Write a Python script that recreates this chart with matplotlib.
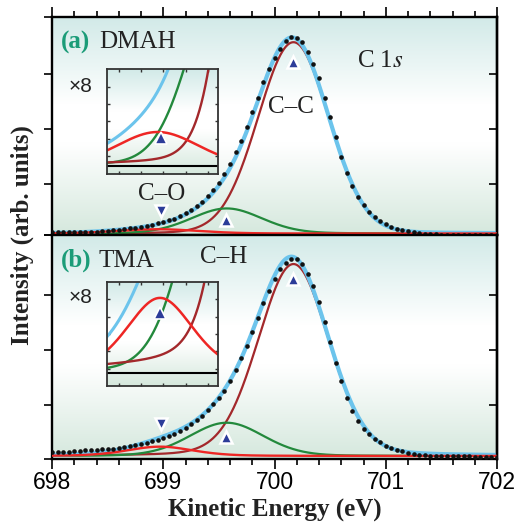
"""C 1s spectra of DMAH and TMA with peak-fit components and x8 insets."""
import numpy as np
import matplotlib
matplotlib.use("Agg")  # headless
import matplotlib.pyplot as plt  # noqa: E402
from matplotlib.colors import LinearSegmentedColormap  # noqa: E402
from matplotlib.ticker import MultipleLocator  # noqa: E402

plt.rcParams["mathtext.fontset"] = "stix"

# measured spectra, sampled every 0.05 eV from 698.00 eV to 702.00 eV
E_START, E_STEP = 698.0, 0.05
dmah_counts = [
    0.022, 0.022, 0.022, 0.024, 0.024, 0.028, 0.029, 0.031, 0.035, 0.040,
    0.048, 0.057, 0.066, 0.079, 0.094, 0.108, 0.121, 0.139, 0.163, 0.187,
    0.209, 0.240, 0.275, 0.316, 0.369, 0.429, 0.501, 0.580, 0.683, 0.796,
    0.923, 1.092, 1.270, 1.494, 1.703, 1.963, 2.233, 2.494, 2.787, 3.018,
    3.228, 3.393, 3.528, 3.600, 3.594, 3.505, 3.323, 3.110, 2.848, 2.495,
    2.136, 1.771, 1.406, 1.117, 0.872, 0.670, 0.519, 0.398, 0.305, 0.228,
    0.174, 0.123, 0.086, 0.059, 0.039, 0.020, 0.006, -0.006, -0.013, -0.018,
    -0.021, -0.023, -0.024, -0.025, -0.025, -0.026, -0.026, -0.027, -0.027, -0.027, -0.027,
]
tma_counts = [
    0.073, 0.078, 0.078, 0.080, 0.085, 0.095, 0.100, 0.107, 0.116, 0.122,
    0.127, 0.131, 0.140, 0.158, 0.182, 0.200, 0.218, 0.244, 0.269, 0.291,
    0.322, 0.355, 0.400, 0.449, 0.509, 0.576, 0.649, 0.733, 0.831, 0.945,
    1.051, 1.185, 1.364, 1.560, 1.782, 2.005, 2.260, 2.516, 2.782, 3.005,
    3.218, 3.391, 3.516, 3.582, 3.573, 3.482, 3.318, 3.091, 2.791, 2.442,
    2.078, 1.696, 1.355, 1.055, 0.818, 0.636, 0.491, 0.395, 0.309, 0.249,
    0.187, 0.140, 0.109, 0.085, 0.060, 0.042, 0.024, 0.013, 0.005, 0.000,
    -0.004, -0.005, -0.006, -0.007, -0.008, -0.009, -0.010, -0.011, -0.012, -0.013, -0.013,
]

# fitted components, order: C–C, C–H, C–O (pseudo-Voigt)
dmah_center = [700.17, 699.57, 698.95]
dmah_height = [3.51, 0.46, 0.078]
dmah_fwhm = [0.75, 0.75, 0.86]
dmah_eta = [0.05, 0.12, 0.10]

tma_center = [700.17, 699.57, 698.97]
tma_height = [3.49, 0.605, 0.17]
tma_fwhm = [0.75, 0.78, 0.70]
tma_eta = [0.12, 0.12, 0.30]

# peak markers (energy, intensity); C–C and C–H point up, C–O points down
dmah_mark_e = [700.17, 699.56, 698.98]
dmah_mark_y = [3.15, 0.25, 0.42]
tma_mark_e = [700.17, 699.56, 698.98]
tma_mark_y = [3.21, 0.34, 0.59]
dmah_inset_mark = (698.98, 0.064)
tma_inset_mark = (698.97, 0.136)

BLUE, BROWN, GREEN, RED = "#6cc4ec", "#a3282b", "#23893c", "#ee2624"
TRI, TEAL = "#2c3c99", "#1b9c78"
SERIF, SANS = "Liberation Serif", "Liberation Sans"
SPINE = 1.7

BG = LinearSegmentedColormap.from_list(
    "bg", [(0.0, "#d5e8dd"), (0.42, "#ffffff"), (0.6, "#ffffff"), (1.0, "#d2eae8")])


def pvoigt(x, center, height, fwhm, eta):
    sigma = fwhm / 2.3548
    gamma = fwhm / 2
    g = np.exp(-(x - center) ** 2 / (2 * sigma ** 2))
    lor = 1 / (1 + ((x - center) / gamma) ** 2)
    return height * ((1 - eta) * g + eta * lor)


def backdrop(ax):
    ax.imshow(np.linspace(0, 1, 256)[:, None], cmap=BG, origin="lower",
              extent=(0, 1, 0, 1), transform=ax.transAxes, aspect="auto", zorder=0)


def components(x, centers, heights, fwhms, etas):
    return [pvoigt(x, c, h, f, e) for c, h, f, e in zip(centers, heights, fwhms, etas)]


def draw_panel(ax, counts, comps, grid, ylim, yticks, mark_e, mark_y, top):
    backdrop(ax)
    cc, ch, co = comps
    ax.plot(grid, cc, color=BROWN, lw=1.6, zorder=2)
    ax.plot(grid, ch, color=GREEN, lw=1.6, zorder=2.1)
    ax.plot(grid, cc + ch + co, color=BLUE, lw=3.0, zorder=2.5)
    ax.plot(grid, co, color=RED, lw=1.7, zorder=2.6)
    energy = E_START + E_STEP * np.arange(len(counts))
    ax.plot(energy, counts, "o", color="#111111", ms=3.3, mew=0, zorder=3)
    for e, y, m in zip(mark_e, mark_y, ["^", "^", "v"]):
        ax.plot(e, y, m, ms=9, color=TRI, mec="white", mew=1.8, zorder=4)
    ax.set_xlim(698, 702)
    ax.set_ylim(*ylim)
    ax.set_yticks(yticks)
    ax.set_yticklabels([])
    ax.xaxis.set_major_locator(MultipleLocator(1))
    ax.xaxis.set_minor_locator(MultipleLocator(0.2))
    ax.tick_params(axis="y", direction="out", length=6, width=1.2, left=True, right=False)
    ax.tick_params(axis="x", which="both", direction="out", width=1.2,
                   top=top, bottom=not top, labeltop=False, labelbottom=not top)
    ax.tick_params(axis="x", which="major", length=7, pad=2, labelsize=16.5)
    ax.tick_params(axis="x", which="minor", length=4.5)
    for lab in ax.get_xticklabels():
        lab.set_fontfamily(SANS)
    for s in ax.spines.values():
        s.set_linewidth(SPINE)
    sec = ax.secondary_yaxis("right")
    sec.set_yticks(yticks[1:-1])
    sec.set_yticklabels([])
    sec.tick_params(direction="in", length=6, width=1.2)
    sec.spines["right"].set_linewidth(SPINE)


def draw_inset(ax, comps, grid, ylim, mark):
    backdrop(ax)
    cc, ch, co = comps
    ax.axhline(0, color="black", lw=1.5, zorder=1)
    ax.plot(grid, cc + ch + co, color=BLUE, lw=2.2, zorder=2)
    ax.plot(grid, ch, color=GREEN, lw=1.7, zorder=2.1)
    ax.plot(grid, cc, color=BROWN, lw=1.7, zorder=2.2)
    ax.plot(grid, co, color=RED, lw=1.8, zorder=2.3)
    ax.plot(*mark, "^", ms=8, color=TRI, mec="white", mew=1.2, zorder=4)
    ax.set_xlim(698.494, 699.492)
    ax.set_ylim(*ylim)
    ax.set_xticks([698.6, 698.8, 699.0, 699.2, 699.4])
    ax.set_yticks([ylim[0] + (ylim[1] - ylim[0]) * k / 6 for k in range(1, 6)])
    ax.tick_params(which="both", direction="in", length=2.5, width=1.0, color="#333333",
                   top=True, right=True, labelleft=False, labelbottom=False)
    for s in ax.spines.values():
        s.set_linewidth(1.3)
        s.set_color("#333333")


fig = plt.figure(figsize=(5.16, 5.22), dpi=100)
ax_a = fig.add_axes([0.1008, 0.5498, 0.8624, 0.4176])
ax_b = fig.add_axes([0.1008, 0.1207, 0.8624, 0.4291])
in_a = fig.add_axes([0.2074, 0.6667, 0.2151, 0.2011])
in_b = fig.add_axes([0.2074, 0.2605, 0.2151, 0.1992])

grid = np.linspace(698, 702, 1601)
comps_a = components(grid, dmah_center, dmah_height, dmah_fwhm, dmah_eta)
comps_b = components(grid, tma_center, tma_height, tma_fwhm, tma_eta)

draw_panel(ax_a, dmah_counts, comps_a, grid, (-0.0275, 3.972),
           [-0.0275, 0.91, 1.92, 2.93, 3.972], dmah_mark_e, dmah_mark_y, top=True)
draw_panel(ax_b, tma_counts, comps_b, grid, (-0.0545, 4.018),
           [-0.0545, 0.927, 1.927, 2.927, 4.018], tma_mark_e, tma_mark_y, top=False)
draw_inset(in_a, comps_a, grid, (-0.018, 0.222), dmah_inset_mark)
draw_inset(in_b, comps_b, grid, (-0.030, 0.206), tma_inset_mark)

# panel labels and peak names
for ax, tag, name, yb in [(ax_a, "(a)", "DMAH", 0.856), (ax_b, "(b)", "TMA", 0.858)]:
    ax.text(0.02, yb, tag, transform=ax.transAxes, family=SERIF, weight="bold",
            size=18, color=TEAL, va="baseline", zorder=6)
    ax.text(0.105, yb, name, transform=ax.transAxes, family=SERIF, size=18,
            color="#222222", va="baseline", zorder=6)
ax_a.text(0.737, 0.772, r"C 1$\mathit{s}$", transform=ax_a.transAxes, family=SERIF,
          size=18, color="#222222", ha="center", va="baseline", zorder=6)
ax_a.text(0.537, 0.558, "C–C", transform=ax_a.transAxes, family=SERIF, size=18,
          color="#222222", ha="center", va="baseline", zorder=6)
ax_a.text(0.247, 0.161, "C–O", transform=ax_a.transAxes, family=SERIF, size=18,
          color="#222222", ha="center", va="baseline", zorder=6)
ax_b.text(0.3865, 0.874, "C–H", transform=ax_b.transAxes, family=SERIF, size=18,
          color="#222222", ha="center", va="baseline", zorder=6)
ax_a.text(0.065, 0.655, "×8", transform=ax_a.transAxes, family=SANS, size=15,
          color="#222222", ha="center", va="baseline", zorder=6)
ax_b.text(0.065, 0.695, "×8", transform=ax_b.transAxes, family=SANS, size=15,
          color="#222222", ha="center", va="baseline", zorder=6)

fig.text(22 / 516, 0.55, "Intensity (arb. units)", rotation=90, family=SERIF,
         weight="bold", size=18, color="#222222", ha="center", va="center")
fig.text(274.5 / 516, 0.013, "Kinetic Energy (eV)", family=SERIF, weight="bold",
         size=18, color="#222222", ha="center", va="baseline")

fig.savefig("out.png", dpi=100)
